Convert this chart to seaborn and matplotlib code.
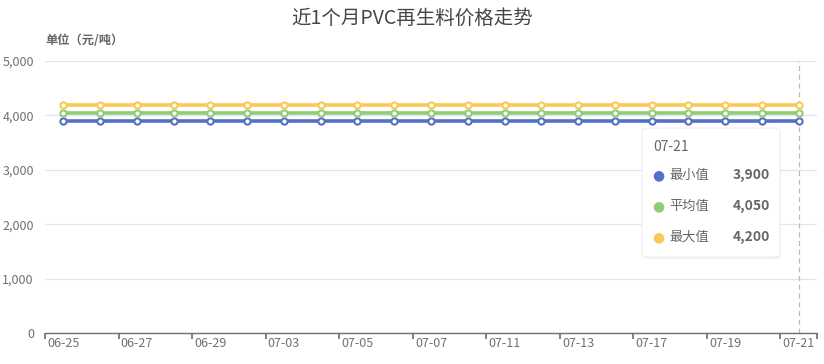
import numpy as np
import pandas as pd
import matplotlib
matplotlib.use("Agg")
import matplotlib.pyplot as plt
from matplotlib.patches import FancyBboxPatch
import seaborn as sns

# data
dates = ["06-25", "06-26", "06-27", "06-28", "06-29", "07-02", "07-03",
         "07-04", "07-05", "07-06", "07-07", "07-10", "07-11", "07-12",
         "07-13", "07-14", "07-17", "07-18", "07-19", "07-20", "07-21"]
min_price = [3900] * 21
avg_price = [4050] * 21
max_price = [4200] * 21
series_names = ["最小值", "平均值", "最大值"]
series_colors = ["#5470c6", "#91cc75", "#fac858"]
y_ticks = [0, 1000, 2000, 3000, 4000, 5000]

df = pd.DataFrame({"date": dates, "最小值": min_price,
                   "平均值": avg_price, "最大值": max_price})
long_df = df.melt(id_vars="date", var_name="series", value_name="price")

sns.set_theme(style="white")
plt.rcParams["font.family"] = ["Noto Sans CJK SC", "DejaVu Sans"]

fig = plt.figure(figsize=(8.24, 3.64), dpi=100)
ax = fig.add_axes([45 / 824, 31 / 364, 772 / 824, 272 / 364])

for name, col in zip(series_names, series_colors):
    sub = long_df[long_df["series"] == name]
    sns.lineplot(data=sub, x="date", y="price", ax=ax, color=col,
                 linewidth=2.6, marker="o", markersize=4.5,
                 markerfacecolor="white", markeredgecolor=col,
                 markeredgewidth=1.5, sort=False, zorder=3)

n = len(dates)
ax.set_xlim(-0.5, n - 0.5)
ax.set_ylim(0, 5000)

# grid + axis styling
ax.set_yticks(y_ticks)
ax.set_yticklabels([f"{v:,}" for v in y_ticks], color="#6e7079", fontsize=9)
ax.yaxis.grid(True, color="#e0e6f1", linewidth=0.9)
ax.tick_params(axis="y", length=0, pad=8)
for s in ["top", "right", "left"]:
    ax.spines[s].set_visible(False)
ax.spines["bottom"].set_color("#6e7079")
ax.spines["bottom"].set_linewidth(1)

bounds = list(np.arange(-0.5, n - 1, 2)) + [n - 0.5]
ax.set_xticks(bounds)
ax.set_xticklabels([""] * len(bounds))
ax.tick_params(axis="x", which="major", length=4, color="#6e7079",
               direction="out", bottom=True)
label_pos = list(range(0, n, 2))
ax.set_xticks(label_pos, minor=True)
ax.set_xticklabels([dates[i] for i in label_pos], minor=True,
                   color="#6e7079", fontsize=9)
ax.tick_params(axis="x", which="minor", length=0, pad=3)
ax.set_xlabel("")
ax.set_ylabel("")

# hover line on last day
ax.axvline(n - 1, color="#b5b9c8", linestyle=(0, (4, 3)), linewidth=0.9,
           zorder=2)

# title and unit label
fig.text(0.5, 1 - 18 / 364, "近1个月PVC再生料价格走势", ha="center",
         va="center", fontsize=14, color="#464646")
fig.text(45 / 824, 1 - 40 / 364, "单位（元/吨）", ha="left", va="center",
         fontsize=8.8, color="#666666", fontweight="bold")

# tooltip box
bx, by, bw, bh = 642, 128, 138, 129
shadow = FancyBboxPatch(((bx + 1) / 824, 1 - (by + bh + 2) / 364),
                        bw / 824, bh / 364,
                        boxstyle="round,pad=0,rounding_size=0.008",
                        transform=fig.transFigure, facecolor="#000000",
                        alpha=0.06, edgecolor="none", zorder=9)
fig.patches.append(shadow)
box = FancyBboxPatch((bx / 824, 1 - (by + bh) / 364), bw / 824, bh / 364,
                     boxstyle="round,pad=0,rounding_size=0.008",
                     transform=fig.transFigure, facecolor="white",
                     edgecolor="#f0f0f0", linewidth=0.8, zorder=10)
fig.patches.append(box)
fig.text(653 / 824, 1 - 147 / 364, dates[-1], fontsize=10, color="#666666",
         va="center", ha="left", zorder=11)
last_vals = [min_price[-1], avg_price[-1], max_price[-1]]
for i, (name, col, v) in enumerate(zip(series_names, series_colors, last_vals)):
    yy = 1 - (175 + 31 * i) / 364
    fig.text(658 / 824, yy, "●", fontsize=10, color=col, va="center",
             ha="center", zorder=11, family=["DejaVu Sans"])
    fig.text(669 / 824, yy, name, fontsize=9.5, color="#666666",
             va="center", ha="left", zorder=11)
    fig.text(770 / 824, yy, f"{v:,}", fontsize=10, color="#666666",
             va="center", ha="right", fontweight="bold", zorder=11)

fig.savefig("out.png", dpi=100)
